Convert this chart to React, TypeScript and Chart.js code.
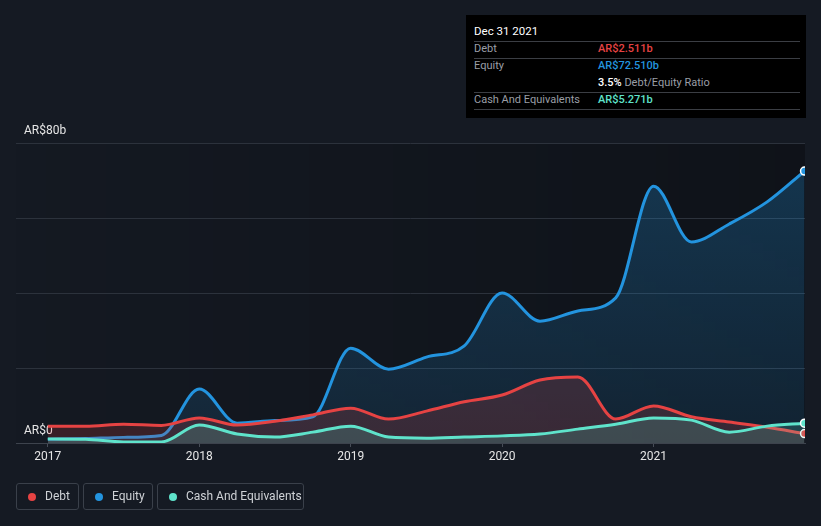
import React, { useEffect, useRef } from "react";
import { Chart, registerables } from "chart.js";

Chart.register(...registerables);

const dates = [
  2017.0, 2017.25, 2017.5, 2017.75, 2018.0, 2018.25, 2018.5, 2018.75, 2019.0, 2019.25, 2019.5,
  2019.75, 2020.0, 2020.25, 2020.5, 2020.75, 2021.0, 2021.25, 2021.5, 2021.75, 2021.997,
];
const debt = [4.5, 4.5, 5.0, 4.7, 6.7, 4.8, 5.8, 7.5, 9.3, 6.4, 8.5, 11.0, 12.8, 16.8, 17.6, 6.4, 9.9, 7.0, 5.6, 4.2, 2.511];
const equity = [1.0, 1.2, 1.5, 2.0, 14.4, 5.3, 6.0, 7.0, 25.3, 19.7, 22.9, 25.9, 40.0, 32.5, 35.2, 38.7, 68.5, 53.6, 58.4, 64.3, 72.51];
const cash = [1.1, 1.0, 0.3, 0.3, 4.8, 2.4, 1.6, 2.9, 4.5, 1.6, 1.3, 1.6, 1.9, 2.4, 3.7, 5.0, 6.7, 6.1, 2.9, 4.5, 5.271];
const yearTicks = [2017, 2018, 2019, 2020, 2021];
const yLabels: Record<number, string> = { 0: "AR$0", 80: "AR$80b" };

const RED = "#e64343";
const BLUE = "#2394df";
const TEAL = "#5fe3cb";
const FONT = "Roboto, 'Noto Sans', sans-serif";

function pts(vals: number[]) {
  return vals.map((v, i) => ({ x: dates[i], y: v }));
}
function lastOnly(val: number) {
  return dates.map((_, i) => (i === dates.length - 1 ? val : 0));
}

const bgPlugin = {
  id: "plotBg",
  beforeDraw(chart: any) {
    const { ctx, chartArea } = chart;
    const g = ctx.createLinearGradient(chartArea.left, 0, chartArea.right, 0);
    g.addColorStop(0, "rgba(0,0,0,0.02)");
    g.addColorStop(1, "rgba(0,0,0,0.28)");
    ctx.save();
    ctx.fillStyle = g;
    ctx.fillRect(chartArea.left, chartArea.top, chartArea.right - chartArea.left, chartArea.bottom - chartArea.top);
    ctx.restore();
  },
};

export default function App() {
  const ref = useRef<HTMLCanvasElement>(null);
  useEffect(() => {
    document.body.style.margin = "0";
    const canvas = ref.current!;
    const ctx = canvas.getContext("2d")!;
    const eqGrad = ctx.createLinearGradient(0, 143, 0, 443);
    eqGrad.addColorStop(0, "rgba(35,148,223,0.28)");
    eqGrad.addColorStop(1, "rgba(35,148,223,0.12)");
    const chart = new Chart(canvas, {
      type: "line",
      data: {
        datasets: [
          {
            label: "Cash And Equivalents",
            data: pts(cash),
            borderColor: TEAL,
            backgroundColor: "rgba(95,227,203,0.18)",
            fill: "origin",
            borderWidth: 3,
            pointRadius: lastOnly(4),
            pointBackgroundColor: TEAL,
            pointBorderColor: "#ffffff",
            pointBorderWidth: 1.5,
            cubicInterpolationMode: "monotone",
            order: 1,
          },
          {
            label: "Debt",
            data: pts(debt),
            borderColor: RED,
            backgroundColor: "rgba(230,67,67,0.18)",
            fill: "origin",
            borderWidth: 3,
            pointRadius: lastOnly(4),
            pointBackgroundColor: RED,
            pointBorderColor: "#ffffff",
            pointBorderWidth: 1.5,
            cubicInterpolationMode: "monotone",
            order: 2,
          },
          {
            label: "Equity",
            data: pts(equity),
            borderColor: BLUE,
            backgroundColor: eqGrad,
            fill: "origin",
            borderWidth: 3,
            pointRadius: lastOnly(4),
            pointBackgroundColor: BLUE,
            pointBorderColor: "#ffffff",
            pointBorderWidth: 1.5,
            cubicInterpolationMode: "monotone",
            order: 3,
          },
        ],
      },
      options: {
        animation: false,
        responsive: false,
        events: [],
        layout: { padding: { left: 16, right: 16, top: 143, bottom: 53 } },
        plugins: { legend: { display: false }, tooltip: { enabled: false } },
        scales: {
          x: {
            type: "linear",
            min: 2016.79,
            max: 2022.0,
            afterFit: (s: any) => {
              s.height = 30;
            },
            afterBuildTicks: (s: any) => {
              s.ticks = yearTicks.map((v) => ({ value: v }));
            },
            ticks: {
              color: "#e6e6e6",
              font: { family: FONT, size: 12 },
              padding: 3,
              maxRotation: 0,
              autoSkip: false,
              callback: (v: any) => String(v),
            },
            grid: { drawOnChartArea: false, drawTicks: true, tickLength: 4, color: "#474d57" },
            border: { display: true, color: "#3d434d", width: 1 },
          },
          y: {
            min: 0,
            max: 80,
            afterFit: (s: any) => {
              s.width = 0;
            },
            ticks: {
              stepSize: 20,
              mirror: true,
              padding: 8,
              labelOffset: -12,
              color: "#e6e6e6",
              font: { family: FONT, size: 12 },
              callback: (v: any) => (yLabels[v as number] !== undefined ? yLabels[v as number] : ""),
            },
            grid: { color: "#2c323c", drawTicks: false },
            border: { display: false },
          },
        },
      },
      plugins: [bgPlugin],
    } as any);
    return () => chart.destroy();
  }, []);

  const rowLabel: React.CSSProperties = { position: "absolute", left: 8, color: "#9a9ea6" };
  const rowVal: React.CSSProperties = { position: "absolute", left: 132, fontWeight: 500 };
  const sep = (top: number) => (
    <div style={{ position: "absolute", left: 8, width: 326, top, height: 1, background: "#3b3e44" }} />
  );
  const legendItem = (left: number, width: number, color: string, text: string) => (
    <div
      style={{
        position: "absolute",
        left,
        top: 483,
        width,
        height: 27,
        boxSizing: "border-box",
        border: "1px solid #3a404a",
        borderRadius: 3,
        color: "#cfd2d6",
        fontSize: 12,
        fontFamily: FONT,
      }}
    >
      <div
        style={{
          position: "absolute",
          left: 11,
          top: 9,
          width: 8,
          height: 8,
          borderRadius: 4,
          background: color,
        }}
      />
      <div style={{ position: "absolute", left: 28, top: 5 }}>{text}</div>
    </div>
  );

  return (
    <div style={{ position: "relative", width: 821, height: 526, background: "#151a23", overflow: "hidden" }}>
      <canvas ref={ref} width={821} height={526} style={{ position: "absolute", left: 0, top: 0, width: 821, height: 526 }} />
      <div
        style={{
          position: "absolute",
          left: 466,
          top: 15,
          width: 340,
          height: 103,
          background: "#000000",
          fontFamily: FONT,
          fontSize: 11,
        }}
      >
        <div style={{ position: "absolute", left: 8, top: 9, color: "#ffffff", fontSize: 11.5 }}>Dec 31 2021</div>
        {sep(26)}
        <div style={{ ...rowLabel, top: 27 }}>Debt</div>
        <div style={{ ...rowVal, top: 27, color: RED }}>AR$2.511b</div>
        {sep(43)}
        <div style={{ ...rowLabel, top: 44 }}>Equity</div>
        <div style={{ ...rowVal, top: 44, color: BLUE }}>AR$72.510b</div>
        <div style={{ ...rowVal, top: 61, color: "#9a9ea6", fontWeight: 400 }}>
          <span style={{ color: "#ffffff", fontWeight: 500 }}>3.5%</span> Debt/Equity Ratio
        </div>
        {sep(77)}
        <div style={{ ...rowLabel, top: 78 }}>Cash And Equivalents</div>
        <div style={{ ...rowVal, top: 78, color: TEAL }}>AR$5.271b</div>
        {sep(94)}
      </div>
      {legendItem(16, 63, RED, "Debt")}
      {legendItem(83, 70, BLUE, "Equity")}
      {legendItem(157, 147, TEAL, "Cash And Equivalents")}
    </div>
  );
}
